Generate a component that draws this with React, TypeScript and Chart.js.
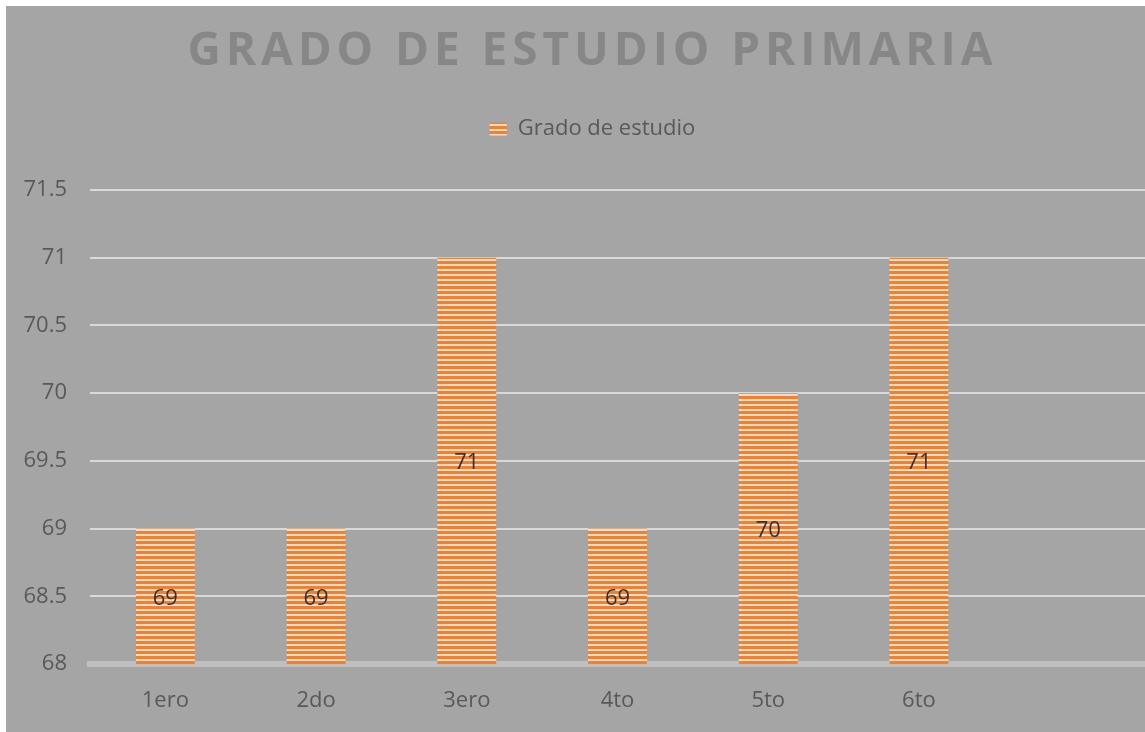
import React, { useEffect, useRef } from "react";
import { Chart, registerables } from "chart.js";

Chart.register(...registerables);

const categories: string[] = ["1ero", "2do", "3ero", "4to", "5to", "6to", ""];
const values: (number | null)[] = [69, 69, 71, 69, 70, 71, null];
const seriesLabel = "Grado de estudio";
const titleText = "GRADO DE ESTUDIO PRIMARIA";
const yMin = 68;
const yMax = 71.5;
const yStep = 0.5;

const FONT = "'Open Sans', 'Liberation Sans', sans-serif";

function makeStripe(ctx: CanvasRenderingContext2D): CanvasPattern | string {
  const c = document.createElement("canvas");
  c.width = 5;
  c.height = 5;
  const g = c.getContext("2d");
  if (!g) return "#ef7f32";
  g.fillStyle = "#fddcc4";
  g.fillRect(0, 0, 5, 5);
  g.fillStyle = "#f08032";
  g.fillRect(0, 0, 5, 3);
  return ctx.createPattern(c, "repeat") || "#ef7f32";
}

const bgPlugin = {
  id: "bgPlugin",
  beforeUpdate(chart: any) {
    const lg = chart.legend;
    if (lg && !lg.__patched) {
      const orig = lg.fit.bind(lg);
      lg.fit = function () {
        orig();
        this.height += 40;
      };
      lg.__patched = true;
    }
  },
  beforeDraw(chart: any) {
    const ctx = chart.ctx;
    ctx.save();
    ctx.fillStyle = "#a5a5a5";
    ctx.fillRect(0, 0, chart.width, chart.height);
    ctx.restore();
  },
  afterLayout(chart: any) {
    if (chart.legend) {
      chart.legend.left += 16;
      chart.legend.right += 16;
    }
  },
  afterDraw(chart: any) {
    const ctx: CanvasRenderingContext2D = chart.ctx;
    const xs = chart.scales.x;
    const ys = chart.scales.y;
    // data labels, centred in each bar
    ctx.save();
    (ctx as any).letterSpacing = "0px";
    ctx.font = `22px ${FONT}`;
    ctx.fillStyle = "#333333";
    ctx.textAlign = "center";
    ctx.textBaseline = "middle";
    values.forEach((v, i) => {
      if (v === null || v === undefined) return;
      const px = xs.getPixelForValue(i);
      const top = ys.getPixelForValue(v);
      const base = ys.getPixelForValue(yMin);
      ctx.fillText(String(v), px, (top + base) / 2 + 2);
    });
    ctx.restore();

    // title
    ctx.save();
    ctx.font = `bold 46px ${FONT}`;
    ctx.fillStyle = "#878787";
    ctx.textBaseline = "alphabetic";
    ctx.textAlign = "left";
    (ctx as any).letterSpacing = "0px";
    const w = ctx.measureText(titleText).width;
    const target = 805;
    const sp = (target - w) / (titleText.length - 1);
    (ctx as any).letterSpacing = `${sp}px`;
    ctx.fillText(titleText, 584 - target / 2, 59);
    (ctx as any).letterSpacing = "0px";
    ctx.restore();
  },
};

export default function App() {
  const ref = useRef<HTMLCanvasElement | null>(null);
  useEffect(() => {
    const canvas = ref.current;
    if (!canvas) return;
    const ctx = canvas.getContext("2d");
    if (!ctx) return;
    const pattern = makeStripe(ctx);
    const chart = new Chart(ctx, {
      type: "bar",
      data: {
        labels: categories,
        datasets: [
          {
            label: seriesLabel,
            data: values,
            backgroundColor: pattern as any,
            borderWidth: 0,
            barPercentage: 0.39,
            categoryPercentage: 1,
          },
        ],
      },
      options: {
        responsive: false,
        animation: false,
        layout: { padding: { top: 61, left: 0, right: -2, bottom: 0 } },
        plugins: {
          title: { display: false },
          tooltip: { enabled: false },
          legend: {
            display: true,
            position: "top",
            align: "center",
            labels: {
              font: { family: FONT, size: 22 },
              color: "#595959",
              boxWidth: 17,
              boxHeight: 13,
              padding: 51,
            },
          },
        },
        scales: {
          x: {
            grid: { display: false, drawTicks: false },
            border: { display: true, color: "#c0c0c0", width: 6 },
            ticks: { font: { family: FONT, size: 22 }, color: "#595959", padding: 24, autoSkip: false, maxRotation: 0 },
            afterFit(scale: any) {
              scale.height = 68;
            },
          },
          y: {
            min: yMin,
            max: yMax,
            ticks: {
              stepSize: yStep,
              font: { family: FONT, size: 22 },
              color: "#595959",
              padding: 23,
              callback: (v: any) => String(Number(v)),
            },
            grid: { color: "#d9d9d9", lineWidth: 2, drawTicks: false },
            border: { display: false },
            afterFit(scale: any) {
              scale.width = 84;
            },
          },
        },
      },
      plugins: [bgPlugin],
    });
    return () => chart.destroy();
  }, []);
  return (
    <div style={{ position: "absolute", left: 6, top: 6, width: 1139, height: 726, background: "#a5a5a5" }}>
      <canvas ref={ref} width={1139} height={726} style={{ display: "block" }} />
    </div>
  );
}
